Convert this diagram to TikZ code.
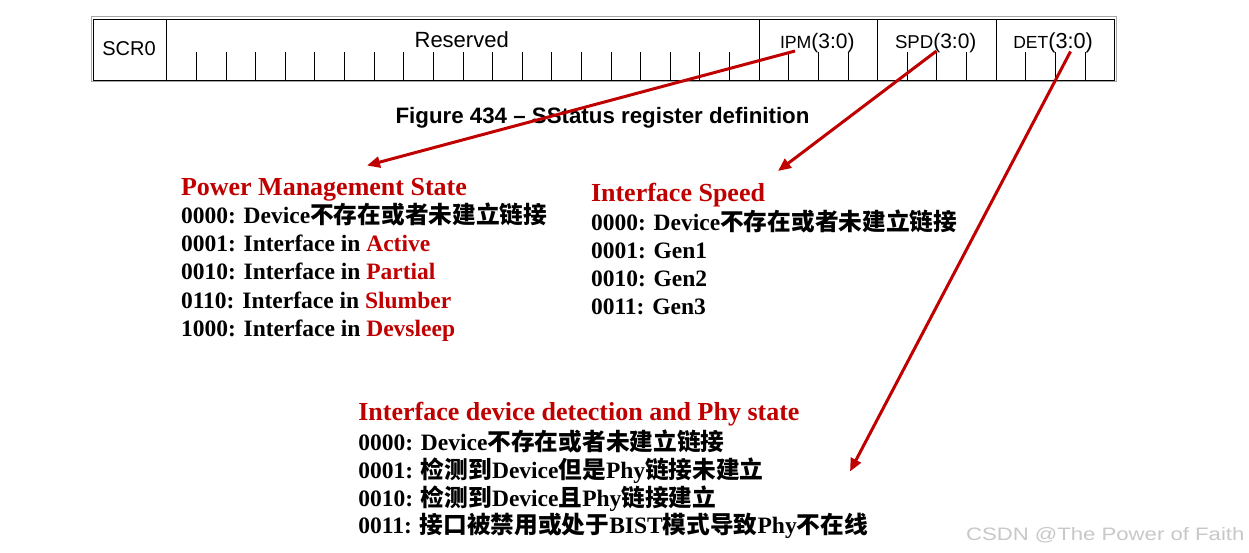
\documentclass[tikz,border=0pt]{standalone}
\usepackage{fontspec}
\setmainfont{Liberation Serif}
\setsansfont{Liberation Sans}
\newfontfamily\cjk{Noto Sans CJK SC}
\usetikzlibrary{arrows.meta}
\definecolor{regred}{RGB}{192,0,0}
\definecolor{wmgray}{RGB}{200,200,200}
\newcommand\zh[1]{{\cjk\bfseries\fontsize{23.7}{23.7}\selectfont #1}}
\newcommand\rd[1]{\textcolor{regred}{#1}}
\newcommand\fs[2]{{\fontsize{#1}{#1}\selectfont #2}}

\begin{document}
\begin{tikzpicture}[x=1pt,y=-1pt,
  txt/.style={anchor=base west, inner sep=0pt, outer sep=0pt},
  head/.style={txt, text=regred, font=\bfseries\fontsize{26}{26}\selectfont},
  body/.style={txt, text=black, font=\bfseries\fontsize{23.5}{23.5}\selectfont},
  hdr/.style={inner sep=0pt, outer sep=0pt, font=\sffamily},
  fullline/.style={line width=0.9pt, black},
  tickline/.style={line width=0.8pt, black},
  arr/.style={line width=3pt, regred, -{Triangle[length=13pt,width=11pt]}},
]
\fill[white] (0,0) rectangle (1249,552);
\useasboundingbox (0,0) rectangle (1249,552);

% register frame
\draw[gray!70, line width=0.8pt] (91.5,16.5) rectangle (1116.5,81.5);
\draw[black, line width=1.1pt] (93.3,19.3) rectangle (1114.8,80.3);
\foreach \i in {0,20,24,28} {
  \draw[fullline] ({166.7+29.62*\i},19.3) -- ({166.7+29.62*\i},80.3);
}
\foreach \i in {1,...,19,21,22,23,25,26,27,29,30,31} {
  \draw[tickline] ({166.7+29.62*\i},52.3) -- ({166.7+29.62*\i},80.3);
}

% header texts
\node[hdr, anchor=base] (scr) at (129,55) {\fs{20}{SCR0}};
\node[hdr, anchor=base] (res) at (461.7,47.7) {\fs{22}{Reserved}};
\node[hdr, anchor=base west] (ipm) at (780,48) {\fs{17.7}{IPM}\fs{21}{(3:0)}};
\node[hdr, anchor=base west] (spd) at (895,48) {\fs{18.6}{SPD}\fs{21}{(3:0)}};
\node[hdr, anchor=base west] (det) at (1013.3,48) {\fs{17.5}{DET}\fs{21.7}{(3:0)}};

% caption
\node[inner sep=0pt, anchor=base, font=\sffamily\bfseries\fontsize{22.3}{22.3}\selectfont] (cap) at (602.5,123.3) {Figure 434 -- SStatus register definition};

% Power Management State block
\node[head] (pmh) at (181,195) {Power Management State};
\node[body] (pm0) at (181,223.5) {0000: Device\zh{不存在或者未建立链接}};
\node[body] (pm1) at (181,251.7) {0001: Interface in \rd{Active}};
\node[body] (pm2) at (181,279.9) {0010: Interface in \rd{Partial}};
\node[body] (pm3) at (181,308.1) {0110: Interface in \rd{Slumber}};
\node[body] (pm4) at (181,336.3) {1000: Interface in \rd{Devsleep}};

% Interface Speed block
\node[head] (ish) at (591,201.5) {Interface Speed};
\node[body] (is0) at (591,230) {0000: Device\zh{不存在或者未建立链接}};
\node[body] (is1) at (591,258) {0001: Gen1};
\node[body] (is2) at (591,286) {0010: Gen2};
\node[body] (is3) at (591,314) {0011: Gen3};

% Detection block
\node[head] (dth) at (358.3,420) {Interface device detection and Phy state};
\node[body] (dt0) at (358.3,450) {0000: Device\zh{不存在或者未建立链接}};
\node[body] (dt1) at (358.3,478) {0001: \zh{检测到}Device\zh{但是}Phy\zh{链接未建立}};
\node[body] (dt2) at (358.3,506) {0010: \zh{检测到}Device\zh{且}Phy\zh{链接建立}};
\node[body] (dt3) at (358.3,533.5) {0011: \zh{接口被禁用或处于}BIST\zh{模式导致}Phy\zh{不在线}};

% watermark
\node[txt, text=wmgray, font=\sffamily\fontsize{18}{18}\selectfont] (wm) at (966,540.7) {\scalebox{1.23}[1]{CSDN @The Power of Faith}};

% arrows
\coordinate (ipmsrc) at (795,51);
\coordinate (ipmtip) at (367,165.5);
\coordinate (spdsrc) at (936.5,51);
\coordinate (spdtip) at (778,171);
\coordinate (detsrc) at (1070.5,51.5);
\coordinate (dettip) at (850,471.5);
\draw[arr] (ipmsrc) -- (ipmtip);
\draw[arr] (spdsrc) -- (spdtip);
\draw[arr] (detsrc) -- (dettip);
\end{tikzpicture}
\end{document}
